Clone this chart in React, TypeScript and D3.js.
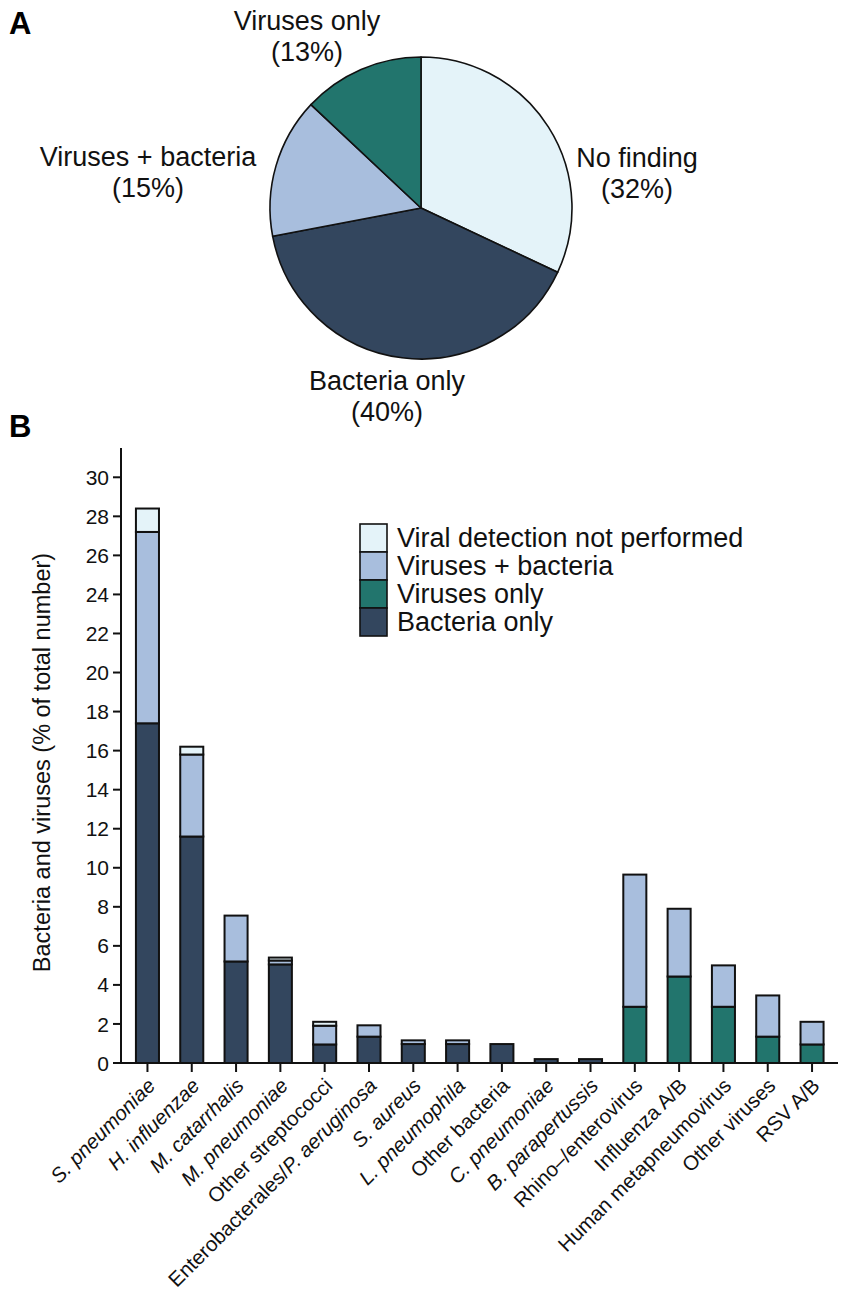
import React from 'react';
import * as d3 from 'd3';

// Panel A – share of patients by finding
const pieGroups = ['No finding', 'Bacteria only', 'Viruses + bacteria', 'Viruses only'];
const pieShares = [32, 40, 15, 13];

// Panel B – pathogens (% of total number); *text* = italic
const categories = [
  '*S. pneumoniae*',
  '*H. influenzae*',
  '*M. catarrhalis*',
  '*M. pneumoniae*',
  'Other streptococci',
  'Enterobacterales/*P. aeruginosa*',
  '*S. aureus*',
  '*L. pneumophila*',
  'Other bacteria',
  '*C. pneumoniae*',
  '*B. parapertussis*',
  'Rhino\u2013/enterovirus',
  'Influenza A/B',
  'Human metapneumovirus',
  'Other viruses',
  'RSV A/B',
];
const bacteriaOnly = [17.4, 11.6, 5.2, 5.05, 0.95, 1.35, 0.97, 0.97, 0.97, 0.2, 0.2, 0, 0, 0, 0, 0];
const virusesOnly = [0, 0, 0, 0, 0, 0, 0, 0, 0, 0, 0, 2.88, 4.43, 2.88, 1.35, 0.95];
const virusesBacteria = [9.8, 4.2, 2.35, 0.2, 0.96, 0.58, 0.19, 0.19, 0, 0, 0, 6.77, 3.47, 2.12, 2.11, 1.16];
const notPerformed = [1.2, 0.4, 0, 0.15, 0.2, 0, 0, 0, 0, 0, 0, 0, 0, 0, 0, 0];
const yTicks = [0, 2, 4, 6, 8, 10, 12, 14, 16, 18, 20, 22, 24, 26, 28, 30];

const seriesKeys = ['bacteriaOnly', 'virusesOnly', 'virusesBacteria', 'notPerformed'];
const legendKeys = ['notPerformed', 'virusesBacteria', 'virusesOnly', 'bacteriaOnly'];
const legendLabels = ['Viral detection not performed', 'Viruses + bacteria', 'Viruses only', 'Bacteria only'];

const NAVY = '#33465e';
const TEAL = '#22756d';
const BLUE = '#a8bedd';
const PALE = '#e4f3f9';

const seriesColor: Record<string, string> = {
  bacteriaOnly: NAVY,
  virusesOnly: TEAL,
  virusesBacteria: BLUE,
  notPerformed: PALE,
};
const pieColors = [PALE, NAVY, BLUE, TEAL];

const FONT = '"Liberation Sans", Arial, Helvetica, sans-serif';
const W = 851;
const H = 1297;

// label placement for the pie (centre x, first baseline)
const pieLabelPos = [
  [637, 167],
  [387, 390],
  [148, 166],
  [307, 30],
];

function parts(label: string) {
  return label.split('*').map((t, i) => ({ t, it: i % 2 === 1 })).filter(p => p.t);
}

const App: React.FC = () => {
  // ---- pie
  const cx = 421;
  const cy = 208;
  const r = 151;
  const pie = d3.pie<number>().sort(null).value(d => d);
  const arcs = pie(pieShares);
  const arc = d3.arc<d3.PieArcDatum<number>>().innerRadius(0).outerRadius(r);

  // ---- bars
  const rows = categories.map((c, i) => ({
    category: c,
    bacteriaOnly: bacteriaOnly[i],
    virusesOnly: virusesOnly[i],
    virusesBacteria: virusesBacteria[i],
    notPerformed: notPerformed[i],
  }));
  const stacked = d3.stack<any>().keys(seriesKeys)(rows);

  const x = d3.scaleBand<string>()
    .domain(categories)
    .range([125.3, 834.2])
    .paddingInner(0.48)
    .paddingOuter(0.24);
  const y = d3.scaleLinear().domain([0, 31.5]).range([1063, 448]);
  const axisX0 = 121;
  const axisX1 = 838;

  return (
    <svg
      width={W}
      height={H}
      style={{ position: 'absolute', left: 0, top: 0, background: '#fff' }}
      fontFamily={FONT}
    >
      <rect width={W} height={H} fill="#fff" />

      {/* panel letters */}
      <text x={9} y={34} fontSize={31} fontWeight="bold">A</text>
      <text x={9} y={437} fontSize={31} fontWeight="bold">B</text>

      {/* ---- pie ---- */}
      <g transform={`translate(${cx},${cy})`}>
        {arcs.map((a, i) => (
          <path key={i} d={arc(a) || ''} fill={pieColors[i]} stroke="#111" strokeWidth={1.6} strokeLinejoin="round" />
        ))}
      </g>
      {pieGroups.map((g, i) => (
        <text key={g} x={pieLabelPos[i][0]} y={pieLabelPos[i][1]} fontSize={27} textAnchor="middle" fill="#111">
          <tspan x={pieLabelPos[i][0]}>{g}</tspan>
          <tspan x={pieLabelPos[i][0]} dy={31}>({pieShares[i]}%)</tspan>
        </text>
      ))}

      {/* ---- bars ---- */}
      {stacked.map(s => (
        <g key={s.key}>
          {s.map((d, i) =>
            d[1] - d[0] > 0 ? (
              <rect
                key={i}
                x={x(categories[i])}
                width={x.bandwidth()}
                y={y(d[1])}
                height={y(d[0]) - y(d[1])}
                fill={seriesColor[s.key]}
                stroke="#111"
                strokeWidth={2}
              />
            ) : null
          )}
        </g>
      ))}

      {/* y axis */}
      <line x1={axisX0} x2={axisX0} y1={y(31.5)} y2={y(0)} stroke="#111" strokeWidth={2} />
      {yTicks.map(t => (
        <g key={t}>
          <line x1={axisX0 - 8} x2={axisX0} y1={y(t)} y2={y(t)} stroke="#111" strokeWidth={2} />
          <text x={axisX0 - 12} y={y(t)} dy="0.36em" textAnchor="end" fontSize={21} fill="#111">{t}</text>
        </g>
      ))}
      <text
        transform={`translate(50,${(y(0) + y(31.5)) / 2 + 7}) rotate(-90)`}
        textAnchor="middle"
        fontSize={23.5}
        fill="#111"
      >
        Bacteria and viruses (% of total number)
      </text>

      {/* x axis */}
      <line x1={axisX0} x2={axisX1} y1={y(0)} y2={y(0)} stroke="#111" strokeWidth={2} />
      {categories.map(c => {
        const xc = (x(c) || 0) + x.bandwidth() / 2;
        return (
          <g key={c}>
            <line x1={xc} x2={xc} y1={y(0)} y2={y(0) + 9} stroke="#111" strokeWidth={2} />
            <text
              transform={`translate(${xc + 9},${y(0) + 24}) rotate(-45)`}
              textAnchor="end"
              fontSize={20.5}
              fill="#111"
            >
              {parts(c).map((p, k) => (
                <tspan key={k} fontStyle={p.it ? 'italic' : 'normal'}>{p.t}</tspan>
              ))}
            </text>
          </g>
        );
      })}

      {/* legend */}
      {legendKeys.map((k, i) => (
        <g key={k} transform={`translate(360,${524 + i * 28})`}>
          <rect width={27} height={28} fill={seriesColor[k]} stroke="#111" strokeWidth={1.6} />
          <text x={37} y={23} fontSize={27} fill="#111">{legendLabels[i]}</text>
        </g>
      ))}
    </svg>
  );
};

export default App;
